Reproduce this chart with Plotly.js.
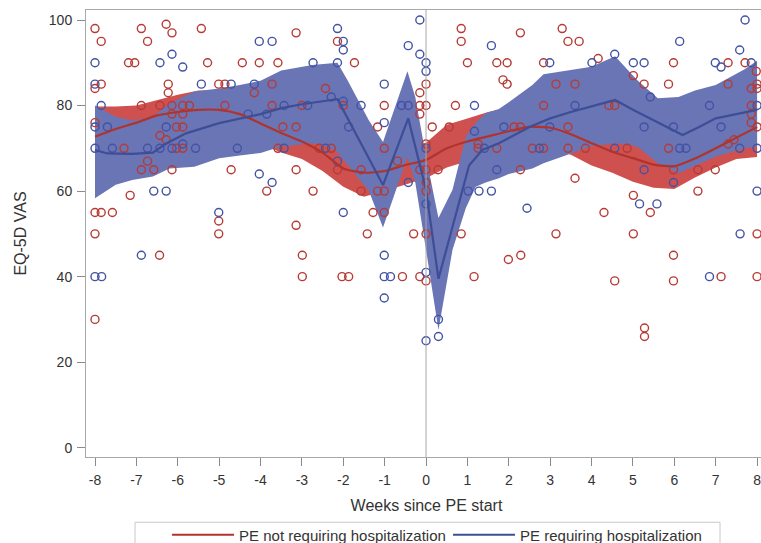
<!DOCTYPE html>
<html>
<head>
<meta charset="utf-8">
<script src="https://cdn.plot.ly/plotly-3.0.1.min.js"></script>
<style>
html,body{margin:0;padding:0;overflow:hidden;background:#fff;}
#chart{width:800px;height:570px;}
</style>
</head>
<body>
<div id="chart"></div>
<script>
// ---- Scatter points: PE not requiring hospitalization (red) ----
const redWeeks = [-8,-7.85,-7.85,-8,-8,-7.3,-7.19,-7.04,-6.88,-6.73,-6.28,-6.14,-5.43,-5.28,-6.23,-6.23,-6.88,-6.43,-6.14,-5.88,-5.72,-6.14,-5.88,-6.43,-6.28,-6.03,-5.88,-6.03,-5.88,-6.73,-6.88,-6.58,-7.15,-6.14,-8,-7.85,-7.58,-8,-5.01,-4.86,-4.44,-4.03,-4.86,-4.15,-4.71,-5.01,-5.01,-6.44,-8,
 -3.14,-2.14,-3.58,-1.73,-3.72,-2.43,-3.72,-3.0,-2.0,-1.01,0,-0.15,0,-0.15,-0.15,-3.46,-3.14,-1.17,-3.58,-2.58,-2.29,-2.14,-3.85,-3.14,-2.73,-1.57,-1.57,-1.17,-1.01,-1.01,-0.69,-0.15,0,0,0,0,0.15,0.29,0.56,0.71,0.85,0.85,1.0,1.71,1.96,1.86,1.96,1.26,1.26,1.71,0.85,-1.28,-1.01,-3.14,-1.42,-0.3,0,
 -2.99,-2.99,-2.03,-1.87,-0.57,-0.15,0,1.16,1.99,2.29,3.14,4.56,5.01,5.28,5.28,5.98,5.98,7.13,8.0,8.0,
 2.28,3.29,3.43,3.70,2.84,4.16,5.98,7.30,7.71,3.14,3.60,5.01,5.27,5.86,7.30,7.98,8.0,8.0,7.86,2.84,4.42,4.56,7.86,7.86,7.86,2.13,2.28,3.43,8.0,2.57,2.84,3.43,3.85,4.86,5.86,7.30,7.44,2.28,3.60,5.98,6.57,6.99,6.57,4.30,5.01,5.42];
const redVas = [98,95,85,84,76,70,90,90,98,95,99,97,98,90,85,83,80,80,80,80,80,78,78,73,72,75,75,70,70,67,65,65,59,65,55,55,55,50,85,85,90,90,80,83,65,53,50,45,30,
 97,95,90,90,85,84,80,80,80,80,85,83,80,80,78,75,75,75,70,70,70,65,60,65,60,65,60,60,60,70,67,65,65,62,60,71,75,65,75,80,98,95,90,90,90,86,85,71,70,70,50,55,55,52,50,50,50,
 45,40,40,40,40,40,39,40,44,45,50,39,50,28,26,45,39,40,50,40,
 97,98,95,95,90,91,90,90,90,85,85,87,85,85,85,88,85,84,84,80,80,80,80,78,76,75,75,75,75,70,70,70,70,70,70,71,72,65,63,65,65,65,60,55,59,55];

// ---- Scatter points: PE requiring hospitalization (blue) ----
const blueWeeks = [-8,-8,-7.85,-8,-7.7,-8,-7.58,-6.43,-6.14,-5.88,-5.43,-6.28,-6.43,-6.73,-6.14,-5.88,-5.57,-6.58,-6.28,-4.71,-4.30,-4.15,-4.56,-5.01,-4.03,-4.03,
 -3.72,-2.14,-2.0,-2.0,-2.73,-2.14,-2.29,-2.0,-3.85,-3.43,-2.86,-1.57,-1.01,-1.01,-0.59,-0.43,-0.43,-0.15,-0.15,0,0,-1.87,-3.43,-2.43,-2.14,-3.72,-0.43,0,1.17,1.58,1.17,1.41,1.71,1.02,1.28,1.58,-2.0,0,
 -6.88,-8,-7.84,-1.01,-1.01,-0.86,-1.01,0,0,0.3,0.3,6.85,7.59,
 7.71,6.13,7.58,4.56,2.99,4.01,5.01,5.27,6.99,7.13,7.86,5.42,3.60,6.85,8.0,1.88,2.99,5.27,5.98,7.13,2.74,4.56,6.13,6.28,7.58,8.0,5.27,5.98,8.0,2.44,5.16,5.58];
const blueVas = [90,85,80,75,75,70,70,90,92,89,85,75,70,70,70,71,70,60,60,85,78,85,70,55,95,64,
 95,98,95,93,90,90,82,81,78,80,80,80,85,76,80,80,94,100,92,90,88,75,70,70,67,62,62,57,80,94,74,70,65,60,60,60,55,70,
 45,40,40,45,40,40,35,41,25,30,26,40,50,
 100,95,93,92,90,90,90,90,90,89,90,82,80,80,80,75,75,75,75,75,70,70,70,70,70,70,65,62,60,56,57,57];

// ---- Smoothed curve: not hospitalized (red) ----
const redCurveWeeks = [-8,-7.5,-7,-6.5,-6,-5.5,-5,-4.5,-4,-3.5,-3,-2.5,-2,-1.5,-1,-0.5,0,0.5,1,1.5,2,2.5,3,3.5,4,4.5,5,5.5,6,6.5,7,7.5,8];
const redCurve = [72.7,74.5,76,77.7,78.5,79,79,78,75.8,73.6,71.6,69,65.3,64.3,64.7,66.1,67.3,70,71.6,72.8,74,75,74.8,73.3,71.2,69.2,67.7,66.2,65.8,67.6,70,72.5,75];
const redUpper = [79.8,79.8,80,81.2,82.5,83.5,83.5,82.5,80.3,78,76,73.5,70,69.5,69.5,70.5,71.3,75.5,77,78.5,79.5,80,79.5,78.5,76.5,74.5,73,72,71.5,73,75,77.5,80];
const redLower = [65.5,68.5,71.5,73.5,74,74.5,74.5,73.5,71,69,67.5,64.7,61,58.7,60,61.5,63,65.5,67,68,69.5,70.2,70,68.5,66,64.3,62.2,60.8,60.5,63.2,65.5,67.5,68];

// ---- Smoothed curve: hospitalized (blue) ----
const blueCurveWeeks = [-8,-7.7,-7.1,-6.6,-6.3,-5.8,-5,-4.5,-4,-3.5,-3,-2.5,-2.14,-1.04,-0.43,0,0.3,0.65,1.04,1.36,1.76,2,2.5,3,3.5,4,4.57,5,5.4,5.8,6.2,6.6,7,7.5,8];
const blueCurve = [69.6,68.8,68.7,69,71,73.5,75.9,77,78,79.4,80.3,81,81.5,61.4,77,60.3,39.5,52,66,69.6,71.2,72.4,75,77,78.5,79.8,81.3,79,77,75,73.1,75,77,78,79];
const blueBandWeeks = [-8,-7.5,-7.1,-6.6,-6.2,-5.6,-5,-4.5,-4,-3.5,-2.75,-2.28,-2.14,-1.9,-1.38,-1.04,-0.45,-0.26,0,0.3,0.64,0.96,1.2,1.44,1.76,2,2.57,2.84,3.37,4,4.57,5.1,5.6,6.1,6.5,7,7.7,8];
const blueUpper = [80,77.4,76.5,77.4,80.5,83.3,84,84.8,85.8,88.2,89.5,90,90,86,76.5,71.5,88,82,68,53.7,60.3,72.7,76,78.2,79.2,80.8,84.8,87.3,88.2,89.1,91.5,86,81.7,82,83.5,84.8,88.5,90.5];
const blueLower = [58.3,61.5,62.6,63.4,65.3,65.7,67.7,68.3,68.9,70.4,71.2,70,69,66,60,51.5,68,62,46.3,27.5,46.3,56,61,62,63,64,65.3,66.5,68.3,70.5,71.2,70.4,66.5,64.2,66,68.1,70,70.4];

const xTicks = [-8,-7,-6,-5,-4,-3,-2,-1,0,1,2,3,4,5,6,7,8];
const yTicks = [0,20,40,60,80,100];

const labels = ['PE not requiring hospitalization','PE requiring hospitalization'];
const RED_FILL='rgb(207,81,79)', BLUE_FILL='rgb(105,117,181)';
const RED_LINE='rgb(176,52,44)', BLUE_LINE='rgb(62,78,150)';
const RED_PT='rgb(183,58,52)', BLUE_PT='rgb(66,82,165)';
const FONT='Liberation Sans, Arial, sans-serif';

function band(w, up, lo, color){
  return {x: w.concat(w.slice().reverse()), y: up.concat(lo.slice().reverse()),
    type:'scatter', mode:'lines', fill:'toself', fillcolor:color,
    line:{width:0, color:color}, hoverinfo:'skip', showlegend:false};
}

const traces = [
  band(redCurveWeeks, redUpper, redLower, RED_FILL),
  band(blueBandWeeks, blueUpper, blueLower, BLUE_FILL),
  {x:redWeeks, y:redVas, type:'scatter', mode:'markers', showlegend:false,
   marker:{symbol:'circle-open', size:8, color:RED_PT, line:{width:1.4, color:RED_PT}}},
  {x:blueWeeks, y:blueVas, type:'scatter', mode:'markers', showlegend:false,
   marker:{symbol:'circle-open', size:8, color:BLUE_PT, line:{width:1.4, color:BLUE_PT}}},
  {x:redCurveWeeks, y:redCurve, type:'scatter', mode:'lines', name:labels[0],
   line:{color:RED_LINE, width:2.2, shape:'spline', smoothing:0.6}},
  {x:blueCurveWeeks, y:blueCurve, type:'scatter', mode:'lines', name:labels[1],
   line:{color:BLUE_LINE, width:2.2}}
];

const axisCommon = {showline:true, linecolor:'#a8a8a8', linewidth:1, mirror:true,
  ticks:'outside', ticklen:8, tickcolor:'#8a8a8a', showgrid:false, zeroline:false,
  ticklabelstandoff:2,
  tickfont:{family:FONT, size:14, color:'#333'}};

const layout = {
  width:800, height:570,
  margin:{l:86, r:33, t:10, b:113},
  paper_bgcolor:'#fff', plot_bgcolor:'#fff',
  font:{family:FONT, color:'#333'},
  xaxis:Object.assign({}, axisCommon, {range:[-8.2175, 8.24], tickvals:xTicks,
    ticktext:xTicks.map(String),
    title:{text:'Weeks since PE start', font:{size:16, color:'#333'}, standoff:13}}),
  yaxis:Object.assign({}, axisCommon, {range:[-2.17, 102.34], tickvals:yTicks,
    title:{text:'EQ-5D VAS', font:{size:16, color:'#333'}, standoff:18}}),
  shapes:[
    {type:'line', xref:'x', yref:'paper', x0:0, x1:0, y0:0, y1:1,
     line:{color:'#a8a8a8', width:1}},
    {type:'rect', xref:'paper', yref:'paper', x0:0.072, x1:0.931, y0:-0.146, y1:-0.35,
     line:{color:'#c8c8c8', width:1}, fillcolor:'rgba(0,0,0,0)', layer:'below'}
  ],
  showlegend:true,
  legend:{orientation:'h', x:0.119, xanchor:'left', y:-0.1376, yanchor:'top',
    borderwidth:0, bgcolor:'rgba(0,0,0,0)', font:{size:15, color:'#333', family:FONT},
    itemwidth:62, entrywidth:204, entrywidthmode:'pixels', traceorder:'normal'}
};

Plotly.newPlot('chart', traces, layout, {displayModeBar:false, staticPlot:true});
</script>
</body>
</html>
